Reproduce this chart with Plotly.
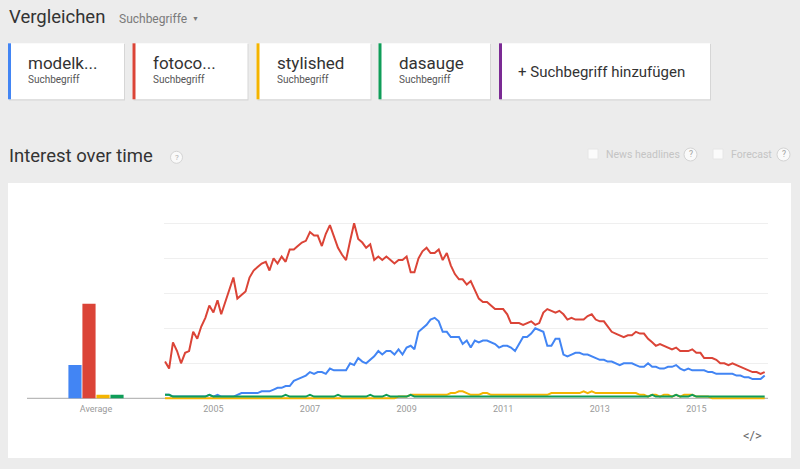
import plotly.graph_objects as go
import pandas as pd

W, H = 800, 469

# ---------------- data ----------------
terms = ["modelk...", "fotoco...", "stylished", "dasauge"]
colors = ["#4285f4", "#db4437", "#f4b400", "#0f9d58"]
averages = [19, 54, 2, 2]
year_ticks = ["2005", "2007", "2009", "2011", "2013", "2015"]
months = pd.date_range("2004-01-01", periods=150, freq="MS")

modelk = [2, 2, 1, 1, 1, 1, 1, 1, 1, 1,
          1, 2, 1, 2, 1, 1, 1, 1, 2, 3,
          3, 3, 3, 3, 4, 4, 4, 5, 6, 6,
          7, 7, 10, 11, 12, 13, 15, 14, 15, 15,
          14, 17, 16, 16, 16, 16, 20, 19, 23, 21,
          20, 22, 24, 27, 25, 27, 27, 25, 28, 25,
          29, 30, 28, 38, 40, 42, 45, 46, 44, 38,
          38, 35, 35, 35, 31, 33, 29, 33, 32, 33,
          33, 32, 31, 29, 30, 30, 29, 27, 31, 35,
          35, 37, 40, 39, 38, 30, 30, 34, 34, 25,
          24, 25, 26, 26, 25, 25, 24, 23, 22, 22,
          21, 21, 20, 19, 20, 20, 20, 19, 18, 18,
          20, 18, 18, 17, 17, 18, 18, 19, 17, 16,
          17, 16, 16, 16, 16, 15, 15, 14, 14, 14,
          14, 14, 13, 13, 12, 12, 11, 11, 11, 13]

fotoco = [21, 17, 32, 27, 20, 26, 27, 38, 34, 41,
          46, 53, 49, 56, 48, 55, 62, 69, 57, 59,
          61, 69, 73, 75, 77, 78, 73, 80, 77, 81,
          78, 85, 85, 87, 89, 90, 95, 93, 93, 87,
          94, 99, 92, 86, 82, 79, 90, 100, 91, 89,
          86, 88, 79, 81, 79, 81, 79, 77, 79, 79,
          81, 72, 72, 80, 84, 86, 83, 83, 85, 79,
          83, 76, 71, 68, 68, 65, 67, 62, 57, 55,
          55, 53, 51, 51, 51, 48, 43, 43, 43, 42,
          43, 44, 42, 43, 49, 51, 50, 49, 50, 48,
          45, 46, 45, 45, 45, 47, 48, 45, 44, 44,
          41, 38, 37, 36, 35, 36, 36, 38, 37, 37,
          34, 32, 30, 31, 30, 29, 28, 29, 27, 27,
          27, 28, 26, 26, 23, 23, 23, 22, 20, 20,
          19, 20, 19, 18, 17, 16, 15, 15, 14, 15]

stylished = [0, 0, 0, 0, 0, 0, 0, 0, 0, 0,
             0, 0, 0, 0, 0, 0, 0, 0, 0, 0,
             0, 0, 0, 0, 0, 0, 0, 0, 0, 0,
             0, 0, 0, 0, 0, 0, 0, 0, 0, 0,
             0, 0, 0, 0, 0, 0, 0, 0, 0, 0,
             0, 0, 0, 0, 0, 0, 0, 0, 1, 1,
             1, 2, 2, 2, 2, 2, 2, 2, 2, 2,
             2, 3, 3, 4, 4, 3, 2, 2, 2, 3,
             3, 2, 2, 2, 2, 2, 2, 2, 2, 2,
             2, 2, 2, 2, 2, 2, 3, 3, 3, 3,
             3, 3, 3, 3, 4, 3, 4, 3, 3, 3,
             3, 3, 3, 3, 3, 3, 3, 3, 2, 2,
             1, 2, 2, 1, 2, 2, 1, 2, 1, 2,
             2, 2, 1, 1, 1, 1, 0, 0, 0, 0,
             0, 0, 0, 0, 0, 0, 0, 0, 0, 0]

dasauge = [2, 2, 1, 1, 1, 1, 1, 1, 1, 1,
           1, 2, 1, 1, 1, 1, 1, 1, 1, 1,
           1, 1, 1, 1, 1, 1, 1, 1, 1, 1,
           2, 1, 1, 1, 1, 1, 2, 1, 1, 1,
           1, 1, 1, 2, 1, 1, 1, 1, 1, 1,
           1, 2, 1, 1, 1, 2, 1, 1, 1, 1,
           1, 2, 1, 1, 1, 1, 1, 1, 1, 1,
           1, 1, 1, 1, 1, 1, 1, 1, 1, 1,
           1, 1, 1, 1, 1, 1, 1, 1, 1, 1,
           1, 1, 1, 1, 1, 1, 1, 1, 1, 1,
           1, 1, 1, 1, 1, 1, 1, 1, 1, 1,
           1, 1, 1, 1, 1, 1, 1, 1, 1, 1,
           1, 2, 1, 1, 1, 1, 1, 2, 1, 1,
           1, 2, 1, 1, 1, 1, 1, 1, 1, 1,
           1, 1, 1, 1, 1, 1, 1, 1, 1, 1]

series = [modelk, fotoco, stylished, dasauge]

# ---------------- helpers ----------------
def px(x):
    return x / W

def py(y):
    return 1 - y / H

FONT = "Roboto, Arial, sans-serif"

fig = go.Figure()

# bars (average)
for name, col, avg in zip(terms, colors, averages):
    fig.add_trace(go.Bar(x=["Average"], y=[avg], name=name, marker=dict(color=col, line=dict(width=0)),
                         xaxis="x2", yaxis="y2", showlegend=False, hoverinfo="skip"))

# time lines
for name, col, vals in zip(terms, colors, series):
    fig.add_trace(go.Scatter(x=months, y=vals, mode="lines", name=name,
                             line=dict(color=col, width=2), showlegend=False))

# y geometry: 0 at 398.3px, 1.75 px per unit
y0px, ppu = 398.3, 1.75
ylo, yhi = -2, 102
dom_y = [py(y0px - ylo * ppu), py(y0px - yhi * ppu)]

fig.update_layout(
    width=W, height=H,
    margin=dict(l=0, r=0, t=0, b=0),
    paper_bgcolor="#ececec",
    plot_bgcolor="rgba(0,0,0,0)",
    font=dict(family=FONT),
    showlegend=False,
    barmode="group", bargap=0.594, bargroupgap=0.06,
    xaxis=dict(domain=[px(164.1), px(768)], type="date",
               range=["2003-12-25", "2016-06-26"],
               tickvals=[f"{y}-01-01" for y in year_ticks], ticktext=year_ticks,
               showgrid=False, zeroline=False, showline=False, ticks="",
               tickfont=dict(size=9, color="#9a9a9a")),
    yaxis=dict(domain=dom_y, range=[ylo, yhi], tickvals=[20, 40, 60, 80, 100],
               showticklabels=False, showgrid=True, gridcolor="#efefef", gridwidth=1,
               zeroline=False, showline=False, ticks=""),
    xaxis2=dict(domain=[px(27), px(165)], type="category", range=[-0.5, 0.5],
                showgrid=False, zeroline=False, showline=False, ticks="",
                tickfont=dict(size=9, color="#9a9a9a"), anchor="y2"),
    yaxis2=dict(domain=dom_y, range=[ylo, yhi], visible=False, anchor="x2"),
)

shapes = []
# chart card
shapes.append(dict(type="rect", xref="paper", yref="paper", layer="below",
                   x0=px(8), x1=px(791), y0=py(458), y1=py(183),
                   fillcolor="white", line=dict(width=0)))
# baseline
shapes.append(dict(type="line", xref="paper", yref="paper", layer="below",
                   x0=px(27), x1=px(768), y0=py(y0px), y1=py(y0px),
                   line=dict(color="#a8a8a8", width=1)))

# term cards
cards = [(8, 124, colors[0]), (132.5, 247.5, colors[1]), (256.5, 370.5, colors[2]),
         (378.5, 490, colors[3]), (499, 710, "#7b2a94")]
for x0, x1, c in cards:
    shapes.append(dict(type="rect", xref="paper", yref="paper", layer="below",
                       x0=px(x0 + 1), x1=px(x1 + 1), y0=py(100.5), y1=py(44),
                       fillcolor="#d6d6d6", line=dict(width=0)))
    shapes.append(dict(type="rect", xref="paper", yref="paper", layer="below",
                       x0=px(x0), x1=px(x1), y0=py(99.3), y1=py(43.3),
                       fillcolor="white", line=dict(width=0)))
    shapes.append(dict(type="rect", xref="paper", yref="paper", layer="below",
                       x0=px(x0), x1=px(x0 + 3), y0=py(99.3), y1=py(43.3),
                       fillcolor=c, line=dict(width=0)))

# checkboxes
for cx in (593, 718):
    shapes.append(dict(type="rect", xref="paper", yref="paper", layer="below",
                       x0=px(cx - 5), x1=px(cx + 5), y0=py(159), y1=py(149),
                       fillcolor="#fbfbfb", line=dict(color="#e6e6e6", width=1)))
# help circles
for cx, cy, r in ((176.5, 157.3, 6), (690.5, 154.5, 6.5), (783.5, 154.5, 6.5)):
    shapes.append(dict(type="circle", xref="paper", yref="paper", layer="below",
                       x0=px(cx - r), x1=px(cx + r), y0=py(cy + r), y1=py(cy - r),
                       fillcolor="#fafafa", line=dict(color="#d4d4d4", width=1)))
fig.update_layout(shapes=shapes)

ann = []
def text(x, y, s, size, color, anchor="left"):
    ann.append(dict(x=px(x), y=py(y), xref="paper", yref="paper", text=s, showarrow=False,
                    xanchor=anchor, yanchor="middle", font=dict(size=size, color=color, family=FONT)))

text(7, 16.5, "Vergleichen", 18.5, "#333333")
text(117, 18.5, "Suchbegriffe", 12, "#7a7a7a")
text(190, 19, "▼", 7, "#7a7a7a")
card_x = [27, 151.5, 275.5, 397.5]
for cx, t in zip(card_x, terms):
    text(cx - 1, 63, t, 17, "#333333")
    text(cx - 1, 80, "Suchbegriff", 10, "#555555")
text(516, 72, "+ Suchbegriff hinzufügen", 15, "#333333")
text(7, 155.5, "Interest over time", 18.5, "#333333")
text(176.5, 157.5, "?", 8, "#b0b0b0", "center")
text(604, 154, "News headlines", 10.5, "#c4c4c4")
text(690.5, 154.5, "?", 8.5, "#a0a0a0", "center")
text(729, 154, "Forecast", 10.5, "#c4c4c4")
text(783.5, 154.5, "?", 8.5, "#a0a0a0", "center")
text(752, 435.5, "&lt;/&gt;", 13, "#666666", "center")
fig.update_layout(annotations=ann)

fig.write_html("out.html")
